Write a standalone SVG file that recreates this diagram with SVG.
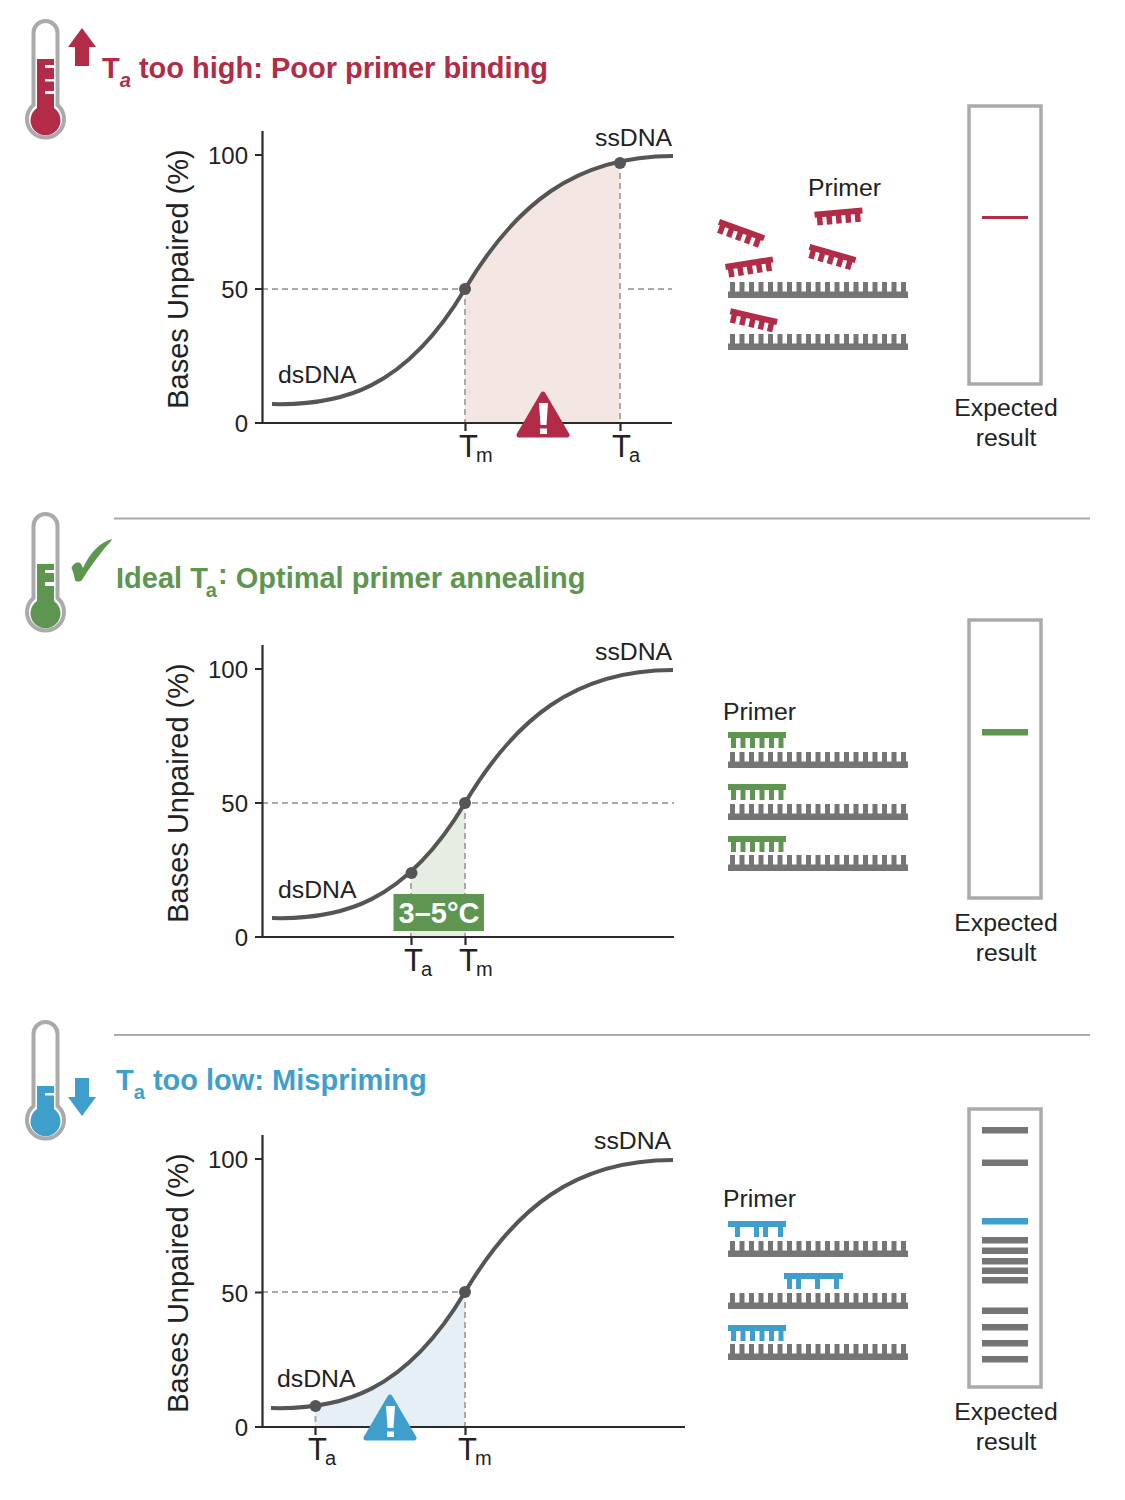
<svg xmlns="http://www.w3.org/2000/svg" xmlns:xlink="http://www.w3.org/1999/xlink" width="1125" height="1500" viewBox="0 0 1125 1500">
<style>
text{font-family:"Liberation Sans",Arial,sans-serif;fill:#222}
.title{font-size:29px;font-weight:bold}
.red{fill:#b22b47}.green{fill:#5e9550}.blue{fill:#3f9fcc}.gray{fill:#757575}
.t{font-size:24.800px}.ax{font-size:24px;text-anchor:end}.yl{font-size:29px;text-anchor:middle}
.T{font-size:31px}.s{font-size:20px}.c{text-anchor:middle}
.axis{stroke:#2a2a2a;stroke-width:2.2;fill:none}
.curve{stroke:#555;stroke-width:4;fill:none}
.dash{stroke:#aaa;stroke-width:2;stroke-dasharray:6 4;fill:none}
.gel{fill:#fff;stroke:#aaa;stroke-width:3.5}
.rule{stroke:#aaa;stroke-width:2}
.therm{fill:#fff;stroke:#aaa;stroke-width:4}
.dot{fill:#555}
</style>
<defs>
<g id="strand"><path class="gray" d="M0 9.500H180V16H0Z"/><path class="gray" d="M2 0h5v10h-5zM11.500 0h5v10h-5zM21 0h5v10h-5zM30.500 0h5v10h-5zM40 0h5v10h-5zM49.500 0h5v10h-5zM59 0h5v10h-5zM68.500 0h5v10h-5zM78 0h5v10h-5zM87.500 0h5v10h-5zM97 0h5v10h-5zM106.500 0h5v10h-5zM116 0h5v10h-5zM125.500 0h5v10h-5zM135 0h5v10h-5zM144.500 0h5v10h-5zM154 0h5v10h-5zM163.500 0h5v10h-5zM173 0h5v10h-5z"/></g>
<path id="rp" class="red" d="M0 0H48V6H45.500V14H40V6H36V14H30.500V6H26.500V14H21V6H17V14H11.500V6H7.500V14H2V6H0Z"/>
<path id="gp" d="M0 0H58V6H55.500V16H50.500V6H46V16H41V6H36.500V16H31.500V6H27V16H22V6H17.500V16H12.500V6H8V16H3V6H0Z"/>
<path id="tube" class="therm" d="M33.500 105V33A12 12 0 0 1 57.500 33V105A18.500 18.500 0 1 1 33.500 105Z"/>
</defs>

<g id="rules"><line class="rule" x1="114" y1="518.500" x2="1090" y2="518.500"/><line class="rule" x1="114" y1="1035" x2="1090" y2="1035"/></g>

<g id="section-high">
<g id="thermo-high"><use href="#tube"/><path class="red" d="M37 59H54V65H45V68H54V79H45V81.500H54V91H45V94H54V108A15 15 0 1 1 37 108Z"/><path class="red" d="M82 28L96 47H89V66H75V47H68Z"/></g>
<text class="title red" x="102" y="78">T<tspan dy="9" font-style="italic" font-size="20">a</tspan><tspan dy="-9"> too high: Poor primer binding</tspan></text>
<g id="plot-high">
<path d="M465 289C505 221.800 551.400 177 618.500 161.800L620 161.500V423H465Z" fill="#f4e6e2"/>
<path class="dash" d="M262 289H465M628 289H672M465 289V423M620 163V423"/>
<path class="axis" d="M262.500 131V423M255 423H672M255 155H262M255 289H262M465.500 423V431M620.500 423V431"/>
<path class="curve" d="M272 404C340 406 405 390 465 289C515 205 575 156 673 156"/>
<circle class="dot" cx="465" cy="289" r="6"/><circle class="dot" cx="620" cy="163" r="6"/>
<path d="M543 394L567 435H519Z" fill="#b22b47" stroke="#b22b47" stroke-width="5" stroke-linejoin="round"/>
<path d="M539 403H548L546.500 425H540.500ZM540 428.500H547V434H540Z" fill="#fff"/>
<text class="ax" x="248" y="164">100</text><text class="ax" x="248" y="298">50</text><text class="ax" x="248" y="432">0</text>
<text class="yl" transform="translate(188 279) rotate(-90)">Bases Unpaired (%)</text>
<text class="t" x="278" y="383">dsDNA</text><text class="t" x="595" y="146">ssDNA</text>
<text class="T" x="459" y="457">T</text><text class="s" x="476" y="462">m</text>
<text class="T" x="612" y="457">T</text><text class="s" x="629" y="462">a</text>
</g>
<g id="primers-high">
<use href="#strand" x="728" y="282"/><use href="#strand" x="728" y="334"/>
<use href="#rp" transform="translate(720 219) rotate(20)"/><use href="#rp" transform="translate(725 264) rotate(-9)"/><use href="#rp" transform="translate(814.300 211.700) rotate(-5)"/><use href="#rp" transform="translate(810.300 244) rotate(16)"/><use href="#rp" transform="translate(731 308.300) rotate(13)"/>
<text class="t" x="808" y="196">Primer</text>
</g>
<g id="gel-high"><rect class="gel" x="969" y="106" width="72" height="278"/><rect class="red" x="982" y="216" width="46" height="3"/><text class="t c" x="1006" y="416">Expected</text><text class="t c" x="1006" y="446">result</text></g>
</g>

<g id="section-ideal">
<g id="thermo-ideal"><use href="#tube" y="493"/><path class="green" d="M37 564H54V570H45V573H54V582H45V586H54V601A15 15 0 1 1 37 601Z"/><path class="green" d="M71.500 568C73 563 79 561 81 564L83 568C90 553 100 542 112 539C111 542 108 544 104 549C96 559 88 570 82 580C80 582 76 582 75 580C74 575 73 571 71.500 568Z"/></g>
<text class="title green" x="116" y="588">Ideal T<tspan dx="-2" dy="9" font-size="20">a</tspan><tspan dx="1" dy="-13">:</tspan><tspan dy="4"> Optimal primer annealing</tspan></text>
<g id="plot-ideal">
<path d="M411 873C431 857 449 830 465 803V937H411Z" fill="#e6ede3"/>
<path class="dash" d="M262 803H674M465 803V937M411 873V937"/>
<path class="axis" d="M262.500 645V937M255 937H674M255 669H262M255 803H262M411.500 937V945M465.500 937V945"/>
<path class="curve" d="M272 918C340 920 405 904 465 803C515 719 575 670 673 670"/>
<circle class="dot" cx="465" cy="803" r="6"/><circle class="dot" cx="411.500" cy="873" r="6"/>
<rect class="green" x="393.500" y="894" width="90.500" height="37"/>
<text x="439" y="923" text-anchor="middle" font-size="29" font-weight="bold" style="fill:#fff">3–5°C</text>
<text class="ax" x="248" y="678">100</text><text class="ax" x="248" y="812">50</text><text class="ax" x="248" y="946">0</text>
<text class="yl" transform="translate(188 793) rotate(-90)">Bases Unpaired (%)</text>
<text class="t" x="278" y="898">dsDNA</text><text class="t" x="595" y="660">ssDNA</text>
<text class="T" x="404" y="971">T</text><text class="s" x="421" y="976">a</text>
<text class="T" x="459" y="971">T</text><text class="s" x="476" y="976">m</text>
</g>
<g id="primers-ideal" class="green">
<use href="#strand" x="728" y="752"/><use href="#strand" x="728" y="804"/><use href="#strand" x="728" y="855"/>
<use href="#gp" x="728" y="732"/><use href="#gp" x="728" y="784"/><use href="#gp" x="728" y="836"/>
<text class="t" x="723" y="720">Primer</text>
</g>
<g id="gel-ideal"><rect class="gel" x="969" y="620" width="72" height="278"/><rect class="green" x="982" y="729" width="46" height="6.500"/><text class="t c" x="1006" y="931">Expected</text><text class="t c" x="1006" y="961">result</text></g>
</g>

<g id="section-low">
<g id="thermo-low"><use href="#tube" y="1001"/><path class="blue" d="M37 1086H54V1093H45V1095.500H54V1109A15 15 0 1 1 37 1109Z"/><path class="blue" d="M75 1078H89V1097H96L82 1116L68 1097H75Z"/></g>
<text class="title blue" x="116" y="1090">T<tspan dy="9" font-size="20">a</tspan><tspan dy="-9"> too low: Mispriming</tspan></text>
<g id="plot-low">
<path d="M315 1406C370 1400 420 1368 465 1292V1427H315Z" fill="#e7eff6"/>
<path class="dash" d="M262 1292H465M465 1292V1427M315.500 1406V1427"/>
<path class="axis" d="M262.500 1135V1427M255 1427H685M255 1159H262M255 1292.500H262M315.500 1427V1435M465.500 1427V1435"/>
<path class="curve" d="M271 1408C340 1410 405 1393 465 1292C515 1208 575 1160 673 1160"/>
<circle class="dot" cx="465" cy="1292" r="6"/><circle class="dot" cx="315.500" cy="1406" r="6"/>
<path d="M390 1397L414 1438H366Z" fill="#3f9fcc" stroke="#3f9fcc" stroke-width="5" stroke-linejoin="round"/>
<path d="M386 1406H395L393.500 1428H387.500ZM387 1431.500H394V1437H387Z" fill="#fff"/>
<text class="ax" x="248" y="1168">100</text><text class="ax" x="248" y="1302">50</text><text class="ax" x="248" y="1436">0</text>
<text class="yl" transform="translate(188 1283) rotate(-90)">Bases Unpaired (%)</text>
<text class="t" x="277" y="1387">dsDNA</text><text class="t" x="594" y="1149">ssDNA</text>
<text class="T" x="308" y="1460">T</text><text class="s" x="325" y="1465">a</text>
<text class="T" x="458" y="1460">T</text><text class="s" x="475" y="1465">m</text>
</g>
<g id="primers-low">
<use href="#strand" x="728" y="1241"/><use href="#strand" x="728" y="1293"/><use href="#strand" x="728" y="1344"/>
<path class="blue" d="M728 1221H786V1227H783V1237H778V1227H768V1237H763V1227H759V1237H754V1227H740V1237H735V1227H728Z"/>
<path class="blue" d="M784 1273H843V1279H839V1289H834V1279H820V1289H815V1279H801V1289H796V1279H792V1289H787V1279H784Z"/>
<use href="#gp" class="blue" x="728" y="1325"/>
<text class="t" x="723" y="1207">Primer</text>
</g>
<g id="gel-low"><rect class="gel" x="969" y="1109" width="72" height="278"/>
<g class="gray"><rect class="gray" x="982" y="1127" width="46" height="6.500"/><rect class="gray" x="982" y="1159.500" width="46" height="6.500"/><rect class="blue" x="982" y="1218" width="46" height="6.500"/><rect class="gray" x="982" y="1237" width="46" height="6.500"/><rect class="gray" x="982" y="1247.500" width="46" height="6.500"/><rect class="gray" x="982" y="1258" width="46" height="6.500"/><rect class="gray" x="982" y="1267.500" width="46" height="6.500"/><rect class="gray" x="982" y="1277" width="46" height="6.500"/><rect class="gray" x="982" y="1307.500" width="46" height="6.500"/><rect class="gray" x="982" y="1324" width="46" height="6.500"/><rect class="gray" x="982" y="1340" width="46" height="6.500"/><rect class="gray" x="982" y="1356" width="46" height="6.500"/></g>
<text class="t c" x="1006" y="1420">Expected</text><text class="t c" x="1006" y="1450">result</text></g>
</g>
</svg>
